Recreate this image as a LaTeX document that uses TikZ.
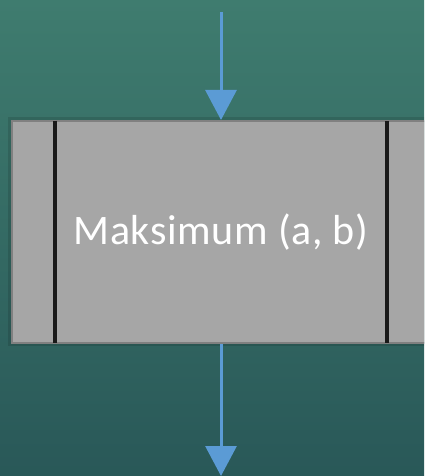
\documentclass[tikz,border=0pt]{standalone}
\usepackage{fontspec}
\setmainfont{Carlito}
\usetikzlibrary{arrows.meta}
\definecolor{bgtop}{RGB}{63,124,111}
\definecolor{bgbot}{RGB}{41,88,88}
\definecolor{flow}{RGB}{91,155,213}
\definecolor{boxgray}{RGB}{166,166,166}
\tikzset{
  flowarrow/.style={draw=flow, line width=3pt, -{Triangle[length=30pt,width=31pt]}},
  subproc/.style={fill=boxgray, draw=black!50, line width=2pt, minimum width=418pt,
                  minimum height=222pt, inner sep=0pt, text=white,
                  font=\fontsize{42}{50}\selectfont\addfontfeature{LetterSpace=1.5}}
}
\begin{document}
\begin{tikzpicture}[x=1pt,y=-1pt]
  \useasboundingbox (0,0) rectangle (424,476);
  \clip (0,0) rectangle (424,476);
  \shade[top color=bgtop, bottom color=bgbot] (0,0) rectangle (424,476);
  % soft edge round the box
  \fill[black, opacity=0.12] (8,117) rectangle (434,346);
  \node [subproc] (maks) at (221,232) {Maksimum (a, b)};
  \draw [line width=4pt, black!90] (55,121) -- (55,343);
  \draw [line width=4pt, black!90] (387,121) -- (387,343);
  \coordinate (top) at (221,12);
  \coordinate (bottom) at (221,476);
  \draw [flowarrow] (top) -- (maks.north);
  \draw [flowarrow] (maks.south) -- (bottom);
\end{tikzpicture}
\end{document}
